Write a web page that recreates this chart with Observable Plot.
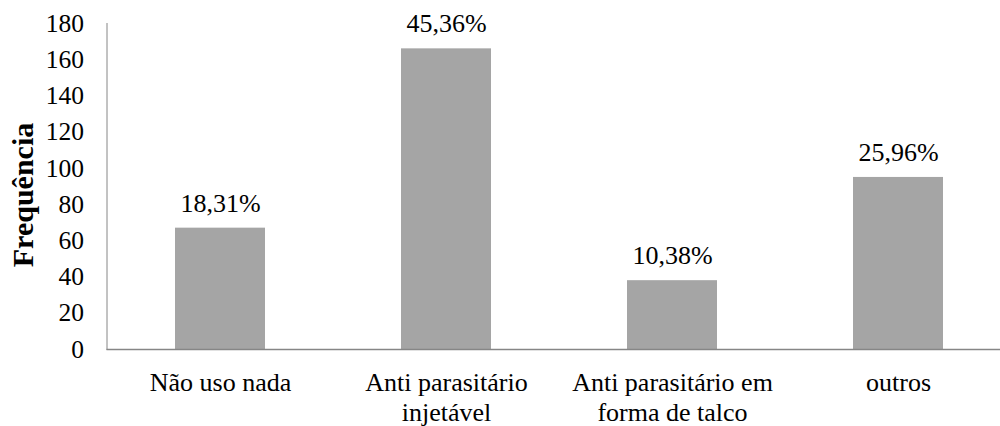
<!DOCTYPE html>
<html>
<head>
<meta charset="utf-8">
<script src="https://cdn.jsdelivr.net/npm/d3@7"></script>
<script src="https://cdn.jsdelivr.net/npm/@observablehq/plot@0.6"></script>
<style>
  html, body { margin: 0; padding: 0; background: #fff; }
  #chart svg { display: block; font-family: "Liberation Serif", "Times New Roman", serif; }
</style>
</head>
<body>
<div id="chart"></div>
<script>
// Treatment categories (line breaks mark the two-line axis labels)
const categories = [
  "Não uso nada",
  "Anti parasitário\ninjetável",
  "Anti parasitário em\nforma de talco",
  "outros"
];
// Frequency of each answer
const frequencies = [67, 166, 38, 95];
// Y axis ticks
const yTicks = [0, 20, 40, 60, 80, 100, 120, 140, 160, 180];

const total = d3.sum(frequencies);
const rows = categories.map((c, i) => ({
  category: c,
  value: frequencies[i],
  pct: (frequencies[i] / total * 100).toFixed(2).replace(".", ",") + "%"
}));

const axisColor = "#868686";
const fs = 26;

const chart = Plot.plot({
  width: 1000,
  height: 426,
  marginLeft: 106.5,
  marginRight: 0,
  marginTop: 23,
  marginBottom: 77,
  style: { fontFamily: "'Liberation Serif', 'Times New Roman', serif", background: "#fff", overflow: "visible" },
  x: { domain: categories, range: [106.5, 1011.8], paddingInner: 0.6, paddingOuter: 0.3, align: 0.5 },
  y: { domain: [0, 180], ticks: yTicks },
  marks: [
    Plot.barY(rows, { x: "category", y: "value", fill: "#a5a5a5" }),
    Plot.frame({ anchor: "left", stroke: axisColor, strokeWidth: 1 }),
    Plot.ruleY([0], { stroke: axisColor, strokeWidth: 1.5 }),
    Plot.axisY({ ticks: yTicks, tickSize: 0, tickPadding: 23, fontSize: 25.5, label: null, fill: "#000" }),
    Plot.axisX({ tickSize: 0, tickPadding: 20.5, fontSize: fs, lineHeight: 1.15, label: null, fill: "#000" }),
    Plot.text(rows, { x: "category", y: "value", text: "pct", lineAnchor: "bottom", dy: -16.5, fontSize: fs, fill: "#000" }),
    Plot.text(["Frequência"], { frameAnchor: "left", textAnchor: "middle", rotate: -90, dx: -84, dy: 8.5, fontSize: 30, fontWeight: "bold", fill: "#000" })
  ]
});

document.getElementById("chart").appendChild(chart);
</script>
</body>
</html>
